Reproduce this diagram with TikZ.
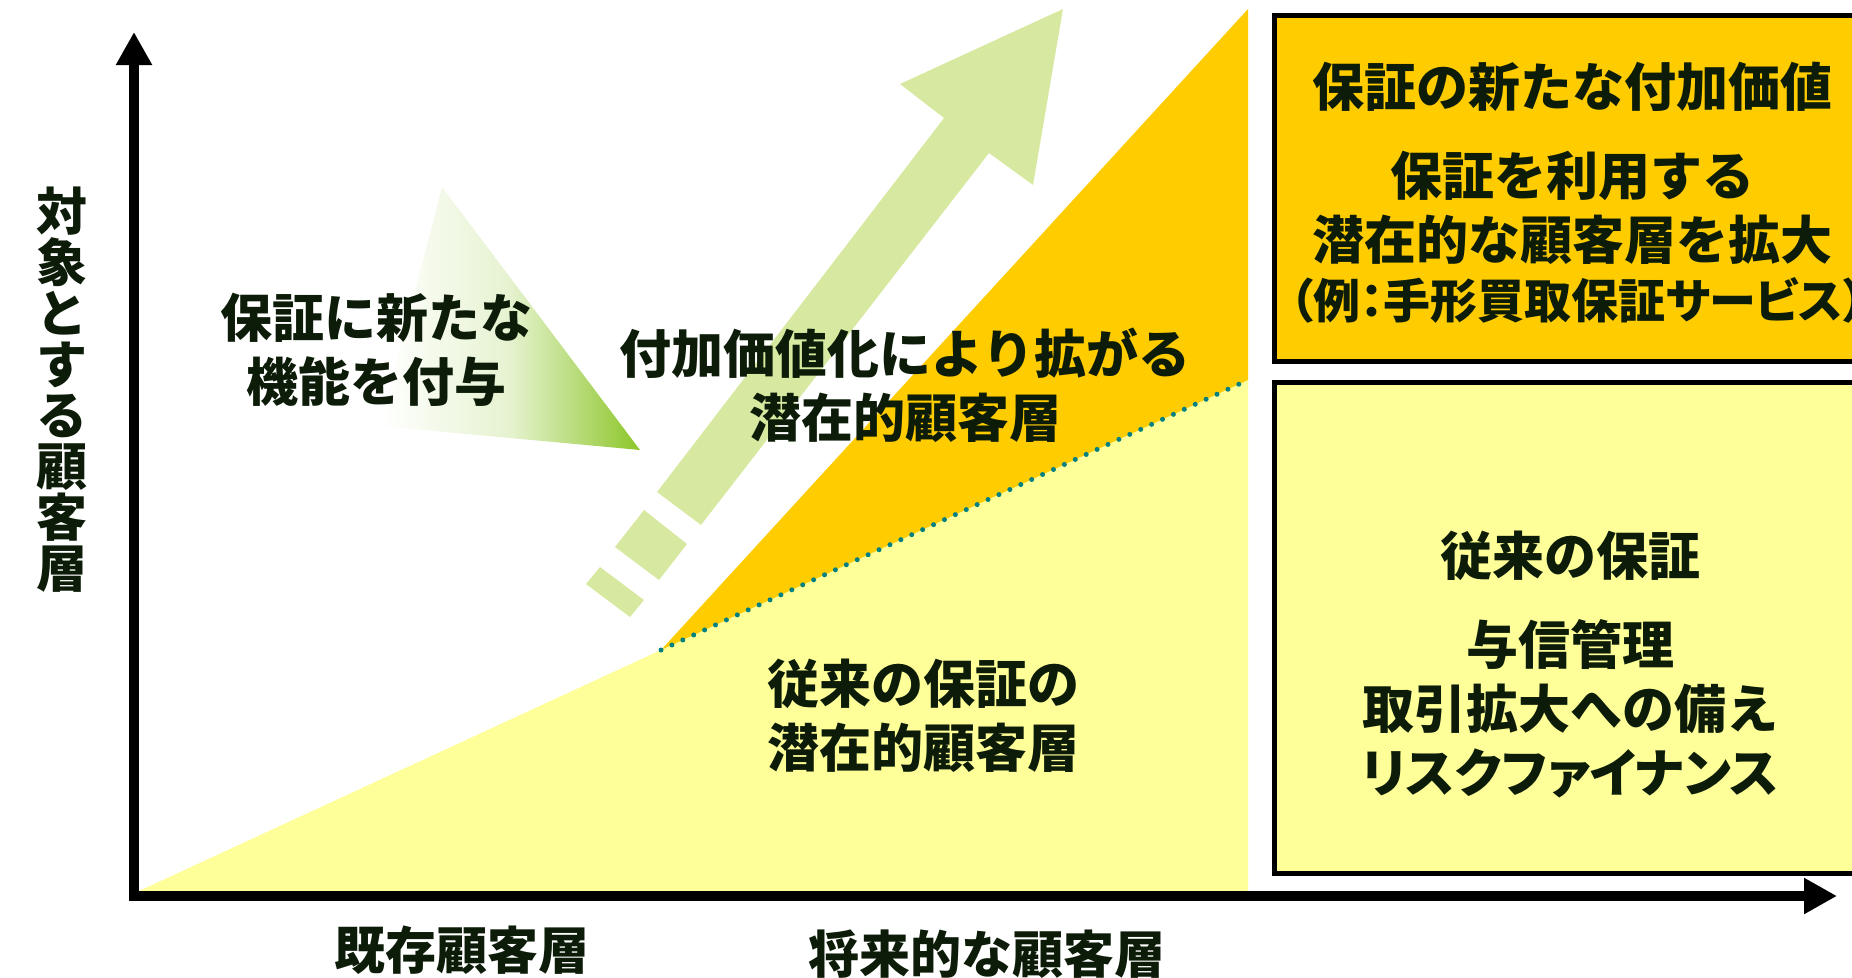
\documentclass[tikz,border=0pt]{standalone}
\usepackage{fontspec}
\setmainfont{Noto Sans CJK JP}
\usetikzlibrary{arrows.meta}
\definecolor{ltyellow}{RGB}{255,255,153}
\definecolor{gold}{RGB}{255,204,0}
\definecolor{arrowgreen}{RGB}{215,233,160}
\definecolor{deepgreen}{RGB}{140,198,40}
\definecolor{dotteal}{RGB}{0,128,128}
\definecolor{ink}{RGB}{12,28,8}
\tikzset{
  lbl/.style={inner sep=0pt, text=ink, align=center, font=\fontsize{52}{64}\selectfont\bfseries},
  axisline/.style={line width=10pt, -{Triangle[length=33pt,width=34pt]}},
  panel/.style={draw=black, line width=5pt, inner sep=0pt},
}
\begin{document}
\begin{tikzpicture}[x=1pt,y=-1pt]
\useasboundingbox (0,0) rectangle (1852,977);
\clip (0,0) rectangle (1852,977);
% key points
\coordinate (o) at (139,891);
\coordinate (k) at (661,650);
\coordinate (d) at (1248,380);
\coordinate (t) at (1248,9);
\coordinate (b) at (1248,891);
% regions
\fill[ltyellow] (o) -- (k) -- (d) -- (b) -- cycle;
\fill[gold] (k) -- (t) -- (d) -- cycle;
\draw[dotteal, line width=5pt, line cap=round, dash pattern=on 0pt off 12pt] (k) -- (d);
% big green arrow
\fill[arrowgreen] (1063,9) -- (900,84) -- (944,118) -- (657,492) -- (701,525) -- (989,153) -- (1033,185) -- cycle;
\fill[arrowgreen] (644,510) -- (687,544) -- (659,580) -- (615,547) -- cycle;
\fill[arrowgreen] (600,567) -- (644,600) -- (630,617) -- (586,584) -- cycle;
% gradient pointer
\shade[left color=white, right color=deepgreen, middle color=deepgreen!22] (442,187) -- (640,450) -- (380,426) -- cycle;
% axes
\coordinate (yb) at (134,901);
\coordinate (yt) at (134,32);
\coordinate (xl) at (129,896);
\coordinate (xr) at (1837,896);
\draw[axisline] (yb) -- (yt);
\draw[axisline] (xl) -- (xr);
% panels
\node[panel, fill=gold, minimum width=596pt, minimum height=346pt] (boxA) at (1572.5,188) {};
\node[panel, fill=ltyellow, minimum width=596pt, minimum height=491pt] (boxB) at (1572.5,627.5) {};
% texts
\node[lbl] (a1) at (1572,87) {保証の新たな付加価値};
\node[lbl] (a2) at (1572,208) {保証を利用する\\潜在的な顧客層を拡大};
\node[lbl, font=\fontsize{47}{60}\selectfont\bfseries\addfontfeatures{RawFeature=+palt}] (a3) at (1578,300) {（例：手形買取保証サービス）};
\node[lbl] (b1) at (1570,556) {従来の保証};
\node[lbl] (b2) at (1570,709) {与信管理\\取引拡大への備え\\{\addfontfeatures{RawFeature=+palt}リスクファイナンス}};
\node[lbl] (t1) at (905,385) {付加価値化により拡がる\\潜在的顧客層};
\node[lbl] (t2) at (923,716) {従来の保証の\\潜在的顧客層};
\node[lbl] (t3) at (376,350) {保証に新たな\\機能を付与};
\node[lbl, font=\fontsize{51}{51}\selectfont\bfseries] (ylab) at (62,390) {対\\象\\と\\す\\る\\顧\\客\\層};
\node[lbl, font=\fontsize{51}{51}\selectfont\bfseries] (xl1) at (462,950) {既存顧客層};
\node[lbl, font=\fontsize{51}{51}\selectfont\bfseries] (xl2) at (987,954) {将来的な顧客層};
\end{tikzpicture}
\end{document}
